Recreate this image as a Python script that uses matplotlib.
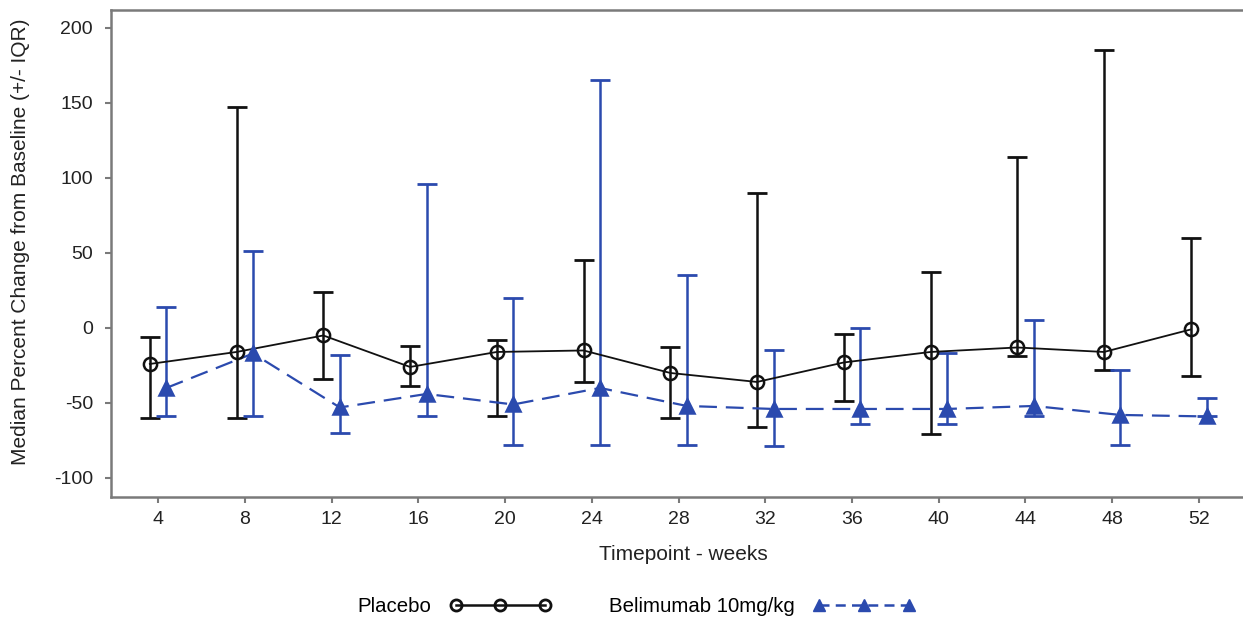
import numpy as np
import matplotlib
matplotlib.use("Agg")
import matplotlib.pyplot as plt
from matplotlib.lines import Line2D

plt.rcParams["font.family"] = ["Liberation Sans", "DejaVu Sans"]
plt.rcParams["axes.unicode_minus"] = False

# weeks on study
weeks = np.array([4, 8, 12, 16, 20, 24, 28, 32, 36, 40, 44, 48, 52])

# placebo: median percent change with lower / upper quartiles
placebo_med = [-24, -16, -5, -26, -16, -15, -30, -36, -23, -16, -13, -16, -1]
placebo_q1 = [-60, -60, -34, -39, -59, -36, -60, -66, -49, -71, -19, -28, -32]
placebo_q3 = [-6, 147, 24, -12, -8, 45, -13, 90, -4, 37, 114, 185, 60]

# belimumab 10 mg/kg
belim_med = [-40, -17, -53, -44, -51, -40, -52, -54, -54, -54, -52, -58, -59]
belim_q1 = [-59, -59, -70, -59, -78, -78, -78, -79, -64, -64, -59, -78, -59]
belim_q3 = [14, 51, -18, 96, 20, 165, 35, -15, 0, -17, 5, -28, -47]

y_ticks = [-100, -50, 0, 50, 100, 150, 200]

BLACK = "#111111"
BLUE = "#2b4aae"
GREY = "#7a7a7a"
TEXT = "#222222"
dodge = 0.38


def draw_group(ax, x, med, q1, q3, color, marker, ls, mfc, ms):
    med = np.asarray(med, float)
    err = np.vstack([med - np.asarray(q1, float), np.asarray(q3, float) - med])
    ax.errorbar(x, med, yerr=err, fmt="none", ecolor=color, elinewidth=1.8,
                capsize=7, capthick=2.0, zorder=2)
    ax.plot(x, med, color=color, ls=ls, lw=1.3 if ls == "-" else 1.6,
            dashes=(8, 4) if ls == "--" else (None, None), zorder=3)
    ax.plot(x, med, ls="none", marker=marker, ms=ms, mfc=mfc, mec=color,
            mew=1.8, zorder=4)


fig = plt.figure(figsize=(12.43, 6.22), dpi=100)
ax = fig.add_axes([111 / 1243, 125 / 622, 1132 / 1243, 487 / 622])

draw_group(ax, weeks - dodge, placebo_med, placebo_q1, placebo_q3,
           BLACK, "o", "-", "none", 9.5)
draw_group(ax, weeks + dodge, belim_med, belim_q1, belim_q3,
           BLUE, "^", "--", BLUE, 9.5)

ax.set_xlim(1.83, 54.03)
ax.set_ylim(-112.7, 212)
ax.set_xticks(weeks)
ax.set_yticks(y_ticks)
ax.tick_params(axis="both", length=4, width=1.5, color=GREY,
               labelsize=14, labelcolor=TEXT)
ax.tick_params(axis="x", pad=6)
ax.tick_params(axis="y", pad=9)
for side in ["left", "bottom", "top"]:
    ax.spines[side].set_color(GREY)
    ax.spines[side].set_linewidth(1.8)
ax.spines["right"].set_visible(False)

ax.set_xlabel("Timepoint - weeks", fontsize=15, color=TEXT)
ax.set_ylabel("Median Percent Change from Baseline (+/- IQR)", fontsize=15,
              color=TEXT)
ax.xaxis.set_label_coords((683 - 111) / 1132, -0.098)
ax.yaxis.set_label_coords(-(111 - 30) / 1132, 0.525)

handles = [
    Line2D([], [], color=BLACK, lw=1.8, marker="o", ms=8, mfc="none",
           mec=BLACK, mew=2),
    Line2D([], [], color=BLUE, lw=1.8, ls="--", dashes=(4, 2.5), marker="^",
           ms=9, mfc=BLUE, mec=BLUE),
]
fig.legend(handles, ["Placebo", "Belimumab 10mg/kg"], loc="center",
           bbox_to_anchor=(636 / 1243, 1 - 607 / 622), ncol=2, frameon=False,
           numpoints=3, markerfirst=False, handlelength=5.0,
           handletextpad=0.9, columnspacing=2.8, fontsize=14.7)

fig.savefig("out.png", dpi=100)
